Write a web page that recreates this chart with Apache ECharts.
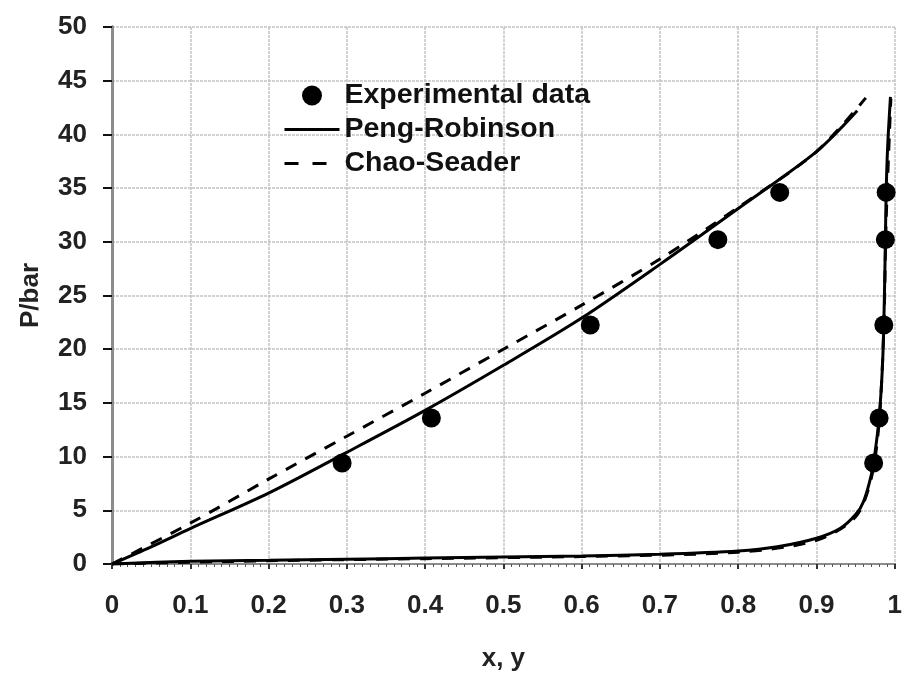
<!DOCTYPE html>
<html>
<head>
    <meta charset="UTF-8">
    <script src="https://cdn.jsdelivr.net/npm/echarts@6/dist/echarts.min.js"></script>
</head>
<body style="margin:0;background:#fff;">
    <div id="main" style="width:905px;height:677px"></div>
    <script type="text/javascript">
        // experimental points: liquid x, vapour y, pressure P
        var expX = [0.294, 0.408, 0.611, 0.774, 0.853];
        var expY = [0.973, 0.980, 0.986, 0.988, 0.989];
        var expP = [9.4, 13.6, 22.25, 30.2, 34.6];

        // Peng-Robinson bubble / dew curves
        var prBubX = [0, 0.05, 0.1, 0.2, 0.3, 0.4, 0.5, 0.6, 0.7, 0.8, 0.9, 0.952];
        var prBubP = [0, 1.6, 3.3, 6.6, 10.4, 14.3, 18.5, 22.9, 27.9, 33.1, 38.4, 42.2];
        var prDewX = [0, 0.1, 0.2, 0.3, 0.4, 0.5, 0.6, 0.7, 0.8, 0.85, 0.9, 0.93, 0.95, 0.96, 0.97, 0.975, 0.98, 0.984, 0.986, 0.988, 0.989, 0.991, 0.9945];
        var prDewP = [0, 0.25, 0.35, 0.45, 0.55, 0.65, 0.75, 0.9, 1.2, 1.6, 2.4, 3.3, 4.6, 5.8, 8.3, 10.5, 13.6, 18.0, 22.3, 30.0, 34.6, 39.0, 43.5];

        // Chao-Seader bubble / dew curves
        var csBubX = [0, 0.1, 0.2, 0.3, 0.4, 0.5, 0.6, 0.7, 0.8, 0.9, 0.963];
        var csBubP = [0, 3.8, 7.9, 11.9, 15.9, 20.0, 24.1, 28.4, 33.2, 38.4, 43.4];
        var csDewX = [0, 0.2, 0.4, 0.6, 0.8, 0.9, 0.95, 0.97, 0.98, 0.986, 0.989, 0.995];
        var csDewP = [0, 0.3, 0.5, 0.7, 1.1, 2.2, 4.4, 8.0, 13.2, 22.0, 32.0, 43.3];

        function pairs(xs, ps) {
            var out = [];
            for (var i = 0; i < xs.length; i++) out.push([xs[i], ps[i]]);
            return out;
        }
        var expData = pairs(expX, expP).concat(pairs(expY, expP));

        var font = 'Liberation Sans, Arial, sans-serif';
        var lineCol = '#000';

        var myChart = echarts.init(document.getElementById('main'));
        var option = {
            animation: false,
            textStyle: { fontFamily: font },
            grid: { left: 112, right: 8, top: 27, bottom: 110 },
            legend: {
                orient: 'vertical',
                left: 283,
                top: 81,
                padding: 0,
                itemWidth: 55,
                itemHeight: 20,
                itemGap: 5,
                textStyle: { fontSize: 28.5, fontWeight: 'bold', color: '#111', fontFamily: font },
                data: [
                    { name: 'Experimental data' },
                    { name: 'Peng-Robinson', itemStyle: { opacity: 0 }, lineStyle: { width: 3 } },
                    { name: 'Chao-Seader', itemStyle: { opacity: 0 }, lineStyle: { width: 3, type: [14, 14] } }
                ]
            },
            xAxis: [{
                type: 'value',
                min: 0, max: 1, interval: 0.1,
                name: 'x, y',
                nameLocation: 'middle',
                nameGap: 82,
                nameTextStyle: { fontSize: 26, fontWeight: 'bold', color: '#222' },
                axisLine: { show: true, onZero: false, lineStyle: { color: '#222', width: 2 } },
                axisTick: { show: true, length: 5, lineStyle: { color: '#333', width: 2 } },
                minorTick: { show: true, splitNumber: 10, length: 3, lineStyle: { color: '#555' } },
                axisLabel: {
                    margin: 29, fontSize: 26, fontWeight: 'bold', color: '#222',
                    formatter: function (v) { return +v.toFixed(1) + ''; }
                },
                splitLine: { show: true, lineStyle: { color: '#c4c4c4', width: 1.5, type: [3, 1] } }
            }, {
                type: 'value', position: 'top', min: 0, max: 1,
                axisLine: { show: true, lineStyle: { color: '#8c8c8c', width: 2 } },
                axisTick: { show: false }, axisLabel: { show: false }, splitLine: { show: false }
            }],
            yAxis: [{
                type: 'value',
                min: 0, max: 50, interval: 5,
                name: 'P/bar',
                nameLocation: 'middle',
                nameGap: 68,
                nameTextStyle: { fontSize: 26, fontWeight: 'bold', color: '#222' },
                axisLine: { show: true, onZero: false, lineStyle: { color: '#111', width: 3 } },
                axisTick: { show: true, length: 9, lineStyle: { color: '#111', width: 2 } },
                axisLabel: { margin: 25, fontSize: 26, fontWeight: 'bold', color: '#222' },
                splitLine: { show: true, lineStyle: { color: '#c4c4c4', width: 1.5, type: [3, 1] } }
            }, {
                type: 'value', position: 'right', min: 0, max: 50,
                axisLine: { show: true, lineStyle: { color: '#8c8c8c', width: 3 } },
                axisTick: { show: false }, axisLabel: { show: false }, splitLine: { show: false }
            }],
            series: [
                {
                    name: 'Peng-Robinson', type: 'line', data: pairs(prBubX, prBubP),
                    symbol: 'none', smooth: 0.3, lineStyle: { color: lineCol, width: 3 },
                    itemStyle: { color: lineCol }
                },
                {
                    name: 'Peng-Robinson', type: 'line', data: pairs(prDewX, prDewP),
                    symbol: 'none', smooth: 0.3, lineStyle: { color: lineCol, width: 3 },
                    itemStyle: { color: lineCol }
                },
                {
                    name: 'Chao-Seader', type: 'line', data: pairs(csBubX, csBubP),
                    symbol: 'none', smooth: 0.3, lineStyle: { color: lineCol, width: 3, type: [12, 10] },
                    itemStyle: { color: lineCol }
                },
                {
                    name: 'Chao-Seader', type: 'line', data: pairs(csDewX, csDewP),
                    symbol: 'none', smooth: 0.3, lineStyle: { color: lineCol, width: 3, type: [12, 10] },
                    itemStyle: { color: lineCol }
                },
                {
                    name: 'Experimental data', type: 'scatter', data: expData,
                    symbol: 'circle', symbolSize: 19, z: 5,
                    itemStyle: { color: '#000', opacity: 1 }
                }
            ]
        };
        myChart.setOption(option);
    </script>
</body>
</html>
